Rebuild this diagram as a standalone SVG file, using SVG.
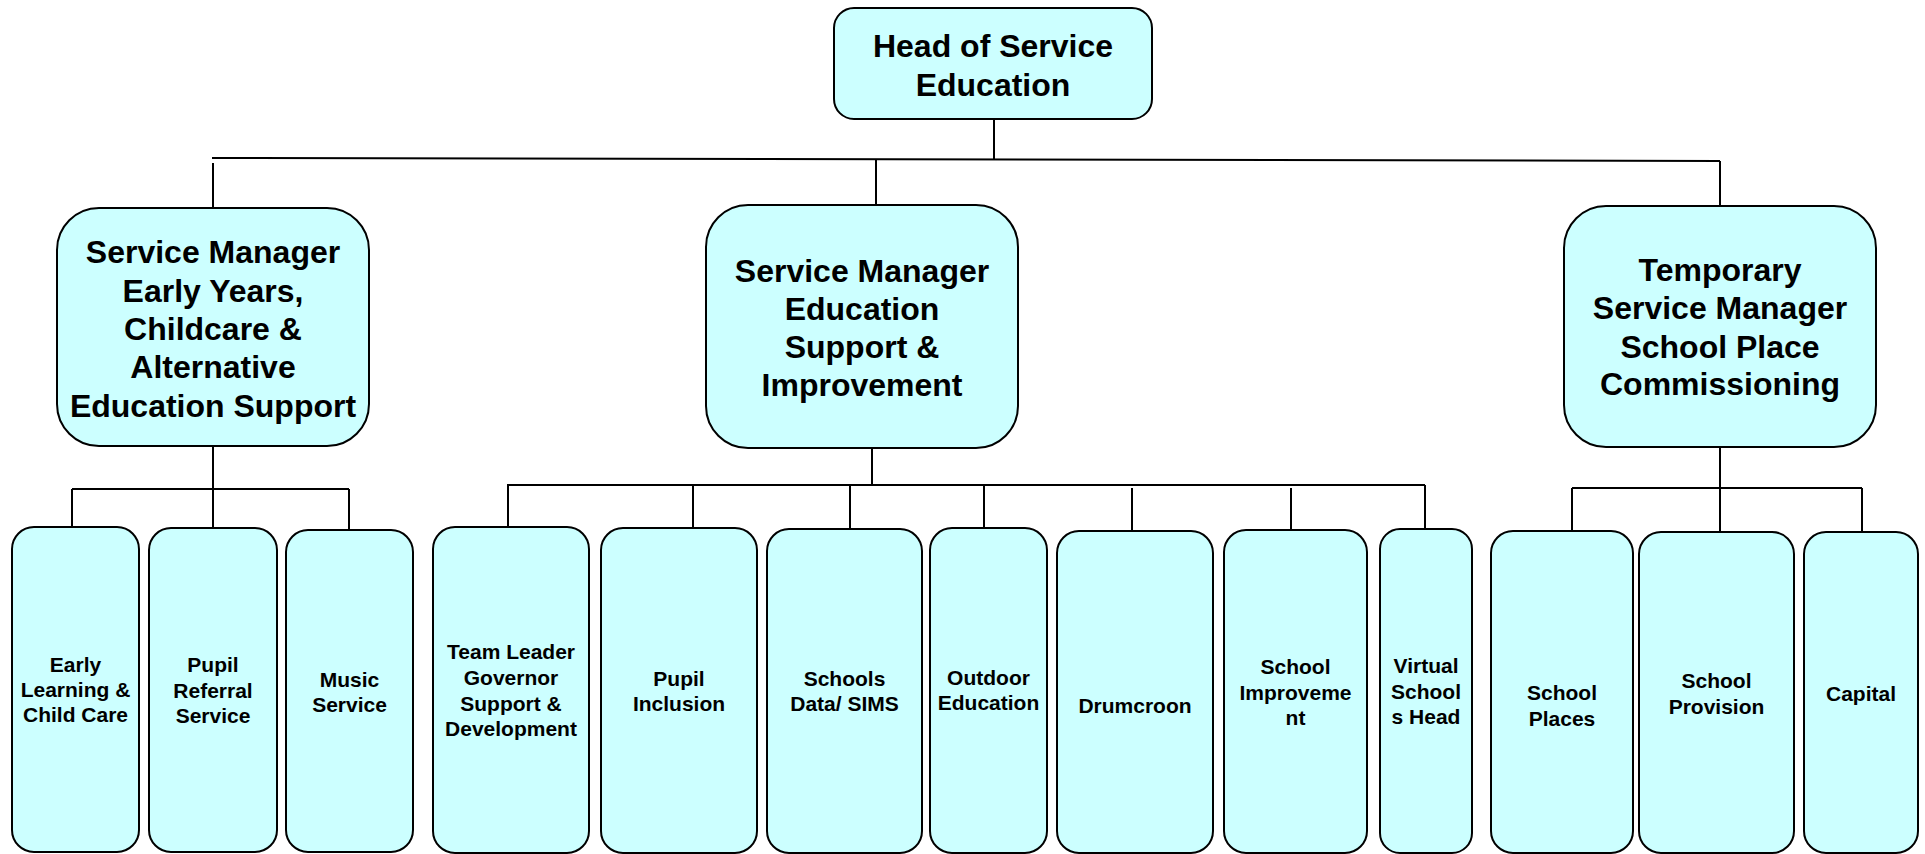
<svg xmlns="http://www.w3.org/2000/svg" width="1925" height="854" viewBox="0 0 1925 854">
<style>
.box{fill:#CCFFFF;stroke:#000;stroke-width:2}
.t{font-family:"Liberation Sans",Arial,sans-serif;font-weight:bold;text-anchor:middle;fill:#000}
.big{font-size:32px}
.sm{font-size:21px}
.c{stroke:#000;stroke-width:2;fill:none}
</style>
<rect width="1925" height="854" fill="#fff"/>
<g id="connectors">
<line class="c" x1="994" y1="119" x2="994" y2="160"/>
<line class="c" x1="212" y1="158" x2="1720" y2="161"/>
<line class="c" x1="213" y1="163" x2="213" y2="208"/>
<line class="c" x1="876" y1="160" x2="876" y2="205"/>
<line class="c" x1="1720" y1="161" x2="1720" y2="206"/>
<line class="c" x1="213" y1="446" x2="213" y2="528"/>
<line class="c" x1="72" y1="489" x2="349" y2="489"/>
<line class="c" x1="72" y1="489" x2="72" y2="527"/>
<line class="c" x1="349" y1="489" x2="349" y2="532"/>
<line class="c" x1="872" y1="448" x2="872" y2="485"/>
<line class="c" x1="507" y1="485" x2="1425" y2="485"/>
<line class="c" x1="508" y1="485" x2="508" y2="527"/>
<line class="c" x1="693" y1="485" x2="693" y2="528"/>
<line class="c" x1="850" y1="485" x2="850" y2="529"/>
<line class="c" x1="984" y1="485" x2="984" y2="528"/>
<line class="c" x1="1132" y1="488" x2="1132" y2="531"/>
<line class="c" x1="1291" y1="488" x2="1291" y2="530"/>
<line class="c" x1="1425" y1="485" x2="1425" y2="529"/>
<line class="c" x1="1720" y1="447" x2="1720" y2="532"/>
<line class="c" x1="1572" y1="488" x2="1862" y2="488"/>
<line class="c" x1="1572" y1="488" x2="1572" y2="531"/>
<line class="c" x1="1862" y1="488" x2="1862" y2="532"/>
</g>
<g id="head"><rect class="box" x="834" y="8" width="318" height="111" rx="20"/>
<text class="t big" x="993" y="57">Head of Service</text><text class="t big" x="993" y="96">Education</text></g>
<g id="sm-early"><rect class="box" x="57" y="208" width="312" height="238" rx="42"/>
<text class="t big" x="213" y="263">Service Manager</text><text class="t big" x="213" y="302">Early Years,</text><text class="t big" x="213" y="340">Childcare &amp;</text><text class="t big" x="213" y="378">Alternative</text><text class="t big" x="213" y="417">Education Support</text></g>
<g id="sm-support"><rect class="box" x="706" y="205" width="312" height="243" rx="42"/>
<text class="t big" x="862" y="282">Service Manager</text><text class="t big" x="862" y="320">Education</text><text class="t big" x="862" y="358">Support &amp;</text><text class="t big" x="862" y="396">Improvement</text></g>
<g id="sm-places"><rect class="box" x="1564" y="206" width="312" height="241" rx="42"/>
<text class="t big" x="1720" y="281">Temporary</text><text class="t big" x="1720" y="319">Service Manager</text><text class="t big" x="1720" y="358">School Place</text><text class="t big" x="1720" y="395">Commissioning</text></g>
<g id="early-learning"><rect class="box" x="12" y="527" width="127" height="325" rx="22"/>
<text class="t sm" x="75.5" y="672">Early</text><text class="t sm" x="75.5" y="697">Learning &amp;</text><text class="t sm" x="75.5" y="722">Child Care</text></g>
<g id="pupil-referral"><rect class="box" x="149" y="528" width="128" height="324" rx="22"/>
<text class="t sm" x="213" y="672">Pupil</text><text class="t sm" x="213" y="698">Referral</text><text class="t sm" x="213" y="723">Service</text></g>
<g id="music"><rect class="box" x="286" y="530" width="127" height="322" rx="22"/>
<text class="t sm" x="349.5" y="687">Music</text><text class="t sm" x="349.5" y="712">Service</text></g>
<g id="team-leader"><rect class="box" x="433" y="527" width="156" height="326" rx="22"/>
<text class="t sm" x="511" y="659">Team Leader</text><text class="t sm" x="511" y="685">Governor</text><text class="t sm" x="511" y="711">Support &amp;</text><text class="t sm" x="511" y="736">Development</text></g>
<g id="pupil-inclusion"><rect class="box" x="601" y="528" width="156" height="325" rx="22"/>
<text class="t sm" x="679" y="686">Pupil</text><text class="t sm" x="679" y="711">Inclusion</text></g>
<g id="schools-data"><rect class="box" x="767" y="529" width="155" height="324" rx="22"/>
<text class="t sm" x="844.5" y="686">Schools</text><text class="t sm" x="844.5" y="711">Data/ SIMS</text></g>
<g id="outdoor"><rect class="box" x="930" y="528" width="117" height="325" rx="22"/>
<text class="t sm" x="988.5" y="685">Outdoor</text><text class="t sm" x="988.5" y="710">Education</text></g>
<g id="drumcroon"><rect class="box" x="1057" y="531" width="156" height="322" rx="22"/>
<text class="t sm" x="1135" y="713">Drumcroon</text></g>
<g id="school-improvement"><rect class="box" x="1224" y="530" width="143" height="323" rx="22"/>
<text class="t sm" x="1295.5" y="674">School</text><text class="t sm" x="1295.5" y="700">Improveme</text><text class="t sm" x="1295.5" y="725">nt</text></g>
<g id="virtual-school"><rect class="box" x="1380" y="529" width="92" height="324" rx="20"/>
<text class="t sm" x="1426" y="673">Virtual</text><text class="t sm" x="1426" y="699">School</text><text class="t sm" x="1426" y="724">s Head</text></g>
<g id="school-places"><rect class="box" x="1491" y="531" width="142" height="322" rx="22"/>
<text class="t sm" x="1562" y="700">School</text><text class="t sm" x="1562" y="726">Places</text></g>
<g id="school-provision"><rect class="box" x="1639" y="532" width="155" height="321" rx="22"/>
<text class="t sm" x="1716.5" y="688">School</text><text class="t sm" x="1716.5" y="714">Provision</text></g>
<g id="capital"><rect class="box" x="1804" y="532" width="114" height="321" rx="22"/>
<text class="t sm" x="1861" y="701">Capital</text></g>
</svg>
